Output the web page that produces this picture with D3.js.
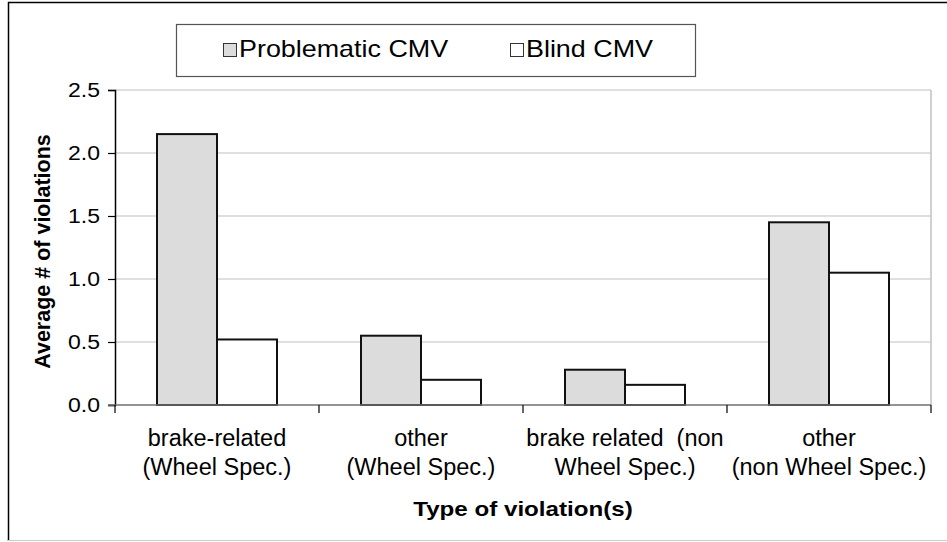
<!DOCTYPE html>
<html>
<head>
<meta charset="utf-8">
<script src="https://cdn.jsdelivr.net/npm/d3@7"></script>
<style>
  body { margin: 0; background: #fff; }
  text { font-family: "Liberation Sans", Arial, sans-serif; fill: #000; }
</style>
</head>
<body>
<script>
  // data
  var categories = ["bw", "ow", "bn", "on"];
  var labelLines = [
    ["brake-related", "(Wheel Spec.)"],
    ["other", "(Wheel Spec.)"],
    ["brake related  (non", "Wheel Spec.)"],
    ["other", "(non Wheel Spec.)"]
  ];
  var seriesNames = ["Problematic CMV", "Blind CMV"];
  var problematic = [2.15, 0.55, 0.28, 1.45];
  var blind = [0.52, 0.2, 0.16, 1.05];
  var yTicks = [0, 0.5, 1.0, 1.5, 2.0, 2.5];

  var width = 947, height = 542;
  var plot = {left: 115, right: 931, top: 90, bottom: 405};
  var colors = ["#dcdcdc", "#ffffff"];
  var stretchK = 1.15;

  // the source image is a bit wider than tall, widen some horizontal texts
  function stretch(sel, k) {
    k = k || stretchK;
    sel.each(function() {
      var w = this.getComputedTextLength();
      d3.select(this).attr("textLength", w * k).attr("lengthAdjust", "spacingAndGlyphs");
    });
  }

  var svg = d3.select("body").append("svg")
      .attr("width", width)
      .attr("height", height);

  // outer frame
  svg.append("line").attr("x1", 8).attr("x2", width).attr("y1", 2.5).attr("y2", 2.5)
      .attr("stroke", "#000").attr("stroke-width", 1.5);
  svg.append("line").attr("x1", 8.5).attr("x2", 8.5).attr("y1", 2).attr("y2", 541)
      .attr("stroke", "#000").attr("stroke-width", 1.5);
  svg.append("line").attr("x1", 8).attr("x2", width).attr("y1", 540.5).attr("y2", 540.5)
      .attr("stroke", "#ccc").attr("stroke-width", 1);

  var x0 = d3.scaleBand()
      .domain(categories)
      .range([plot.left, plot.right])
      .paddingInner(0).paddingOuter(0);

  var x1 = d3.scaleBand()
      .domain(seriesNames)
      .range([0, x0.bandwidth()])
      .paddingInner(0).paddingOuter(0.7);

  var y = d3.scaleLinear()
      .domain([0, 2.5])
      .range([plot.bottom, plot.top]);

  // gridlines
  svg.append("g")
    .selectAll("line")
    .data(yTicks.filter(function(d) { return d > 0; }))
    .enter().append("line")
      .attr("x1", plot.left).attr("x2", plot.right)
      .attr("y1", function(d) { return y(d); })
      .attr("y2", function(d) { return y(d); })
      .attr("stroke", "#d4d4d4")
      .attr("stroke-width", 1.5);

  // right border of plot area
  svg.append("line")
      .attr("x1", plot.right).attr("x2", plot.right)
      .attr("y1", y(2.5)).attr("y2", y(0))
      .attr("stroke", "#c0c0c0").attr("stroke-width", 1.5);

  // bars
  var rows = categories.map(function(c, i) {
    return {cat: c, values: [problematic[i], blind[i]]};
  });

  var group = svg.append("g").selectAll("g")
    .data(rows)
    .enter().append("g")
      .attr("transform", function(d) { return "translate(" + x0(d.cat) + ",0)"; });

  group.selectAll("rect")
    .data(function(d) { return d.values.map(function(v, j) { return {name: seriesNames[j], v: v, j: j}; }); })
    .enter().append("rect")
      .attr("x", function(d) { return x1(d.name); })
      .attr("y", function(d) { return y(d.v); })
      .attr("width", x1.bandwidth())
      .attr("height", function(d) { return y(0) - y(d.v); })
      .attr("fill", function(d) { return colors[d.j]; })
      .attr("stroke", "#111")
      .attr("stroke-width", 2);

  // axis-y
  var yAxis = svg.append("g")
      .attr("transform", "translate(" + plot.left + ",0)")
      .call(d3.axisLeft(y).tickValues(yTicks).tickFormat(d3.format(".1f")).tickSize(7).tickPadding(8));
  yAxis.select(".domain").attr("stroke", "#000").attr("stroke-width", 1.5);
  yAxis.selectAll(".tick line").attr("stroke", "#000").attr("stroke-width", 1.2);
  yAxis.selectAll("text")
      .attr("font-family", "Liberation Sans, Arial, sans-serif")
      .attr("font-size", "20px")
      .attr("fill", "#000")
      .call(stretch);

  // axis-x, ticks on the category boundaries
  var bounds = categories.map(function(c) { return x0(c); }).concat([plot.right]);
  svg.append("line")
      .attr("x1", plot.left - 7).attr("x2", plot.right)
      .attr("y1", y(0)).attr("y2", y(0))
      .attr("stroke", "#707070").attr("stroke-width", 1.5);
  svg.append("g").selectAll("line")
    .data(bounds)
    .enter().append("line")
      .attr("x1", function(d) { return d; }).attr("x2", function(d) { return d; })
      .attr("y1", y(0)).attr("y2", y(0) + 8)
      .attr("stroke", "#000").attr("stroke-width", 1.2);

  // category labels, narrower and taller than the rest
  var lab = svg.append("g").selectAll("text")
    .data(categories)
    .enter().append("text")
      .attr("text-anchor", "middle")
      .attr("font-size", "23.5px")
      .style("white-space", "pre");
  lab.each(function(c, i) {
    var t = d3.select(this);
    var cx = x0(c) + x0.bandwidth() / 2;
    labelLines[i].forEach(function(s, k) {
      t.append("tspan")
        .attr("x", cx)
        .attr("y", 446 + k * 29)
        .text(s);
    });
  });

  // axis titles
  svg.append("text")
      .attr("x", (plot.left + plot.right) / 2)
      .attr("y", 516)
      .attr("text-anchor", "middle")
      .attr("font-weight", "bold")
      .attr("font-size", "21px")
      .text("Type of violation(s)")
      .call(stretch);

  svg.append("text")
      .attr("transform", "translate(50," + ((plot.top + plot.bottom) / 2 + 4) + ") rotate(-90)")
      .attr("text-anchor", "middle")
      .attr("font-weight", "bold")
      .attr("font-size", "21.5px")
      .text("Average # of violations");

  // legend
  var legend = svg.append("g");
  legend.append("rect")
      .attr("x", 176.5).attr("y", 24.5)
      .attr("width", 519).attr("height", 52)
      .attr("fill", "#fff")
      .attr("stroke", "#555").attr("stroke-width", 1.2);
  var legX = [223, 510];
  seriesNames.forEach(function(name, j) {
    legend.append("rect")
        .attr("x", legX[j] + 0.5).attr("y", 43.5)
        .attr("width", 13).attr("height", 13)
        .attr("fill", colors[j])
        .attr("stroke", "#333").attr("stroke-width", 1);
    legend.append("text")
        .attr("x", legX[j] + 16)
        .attr("y", 57)
        .attr("font-size", "24px")
        .text(name)
        .call(stretch, 1.12);
  });
</script>
</body>
</html>
